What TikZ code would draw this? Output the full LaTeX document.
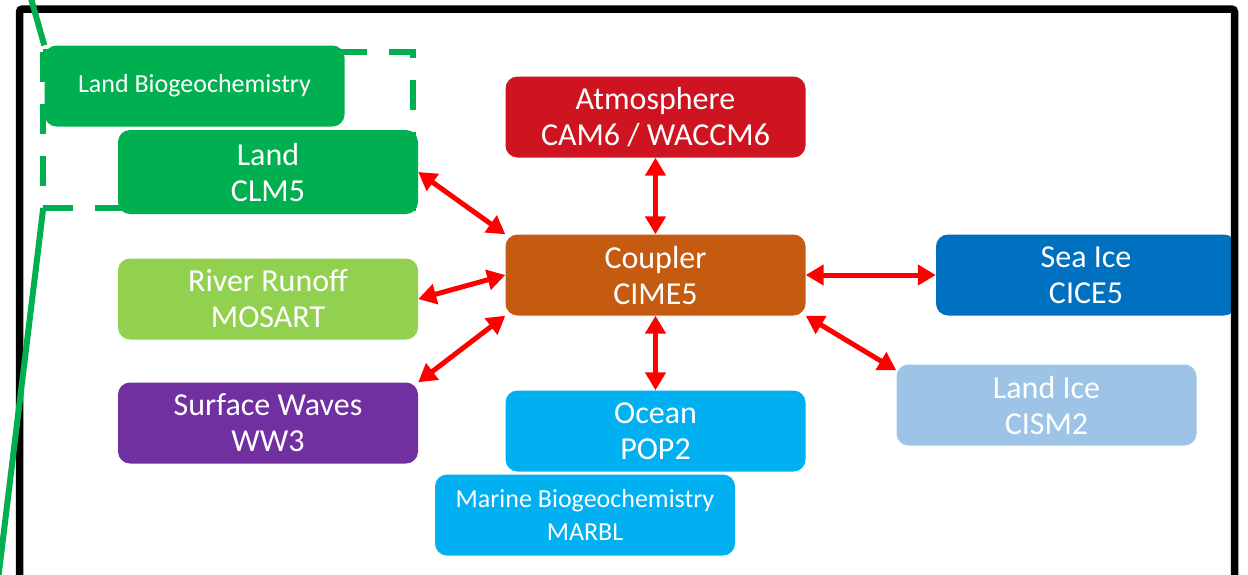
\documentclass[tikz,border=0pt]{standalone}
\usepackage{fontspec}
\setmainfont{Carlito}
\usepackage{tikz}
\usetikzlibrary{arrows.meta}

\definecolor{landgreen}{HTML}{00B050}
\definecolor{atmred}{HTML}{CE1420}
\definecolor{cplorange}{HTML}{C55A11}
\definecolor{seablue}{HTML}{0070C0}
\definecolor{iceblue}{HTML}{9DC3E6}
\definecolor{rivergreen}{HTML}{92D050}
\definecolor{wavepurple}{HTML}{7030A0}
\definecolor{oceanblue}{HTML}{00B0F0}

\begin{document}
\begin{tikzpicture}[x=1pt, y=-1pt,
    box/.style={rounded corners=12pt, minimum width=300pt, minimum height=81pt,
      inner sep=0pt, text=white, align=center, font=\fontsize{32}{36}\selectfont},
    smallbox/.style={box, font=\fontsize{26}{30}\selectfont},
    link/.style={red, line width=5pt, {Triangle[length=18pt,width=20pt]}-{Triangle[length=18pt,width=20pt]}}]
    \useasboundingbox (0,0) rectangle (1248,574);
    \clip (0,0) rectangle (1248,574);
    \fill[white] (0,0) rectangle (1248,574);

    % dashed land group
    \draw[landgreen, line width=6pt, dash pattern=on 30pt off 22pt] (43,52) rectangle (413,208);

    \node[smallbox, fill=landgreen] (landbgc) at (194.5,86) {Land Biogeochemistry};
    \node[box, fill=landgreen, minimum height=84pt] (land) at (268,172) {Land\\CLM5};
    \node[box, fill=atmred] (atm) at (655.5,117) {Atmosphere\\CAM6 / WACCM6};
    \node[box, fill=cplorange] (cpl) at (655.5,275) {Coupler\\CIME5};
    \node[box, fill=seablue] (ice) at (1086,275) {Sea Ice\\CICE5};
    \node[box, fill=iceblue] (glc) at (1046.5,405) {Land Ice\\CISM2};
    \node[box, fill=rivergreen] (rof) at (268,299) {River Runoff\\MOSART};
    \node[box, fill=wavepurple] (wav) at (268,423) {Surface Waves\\WW3};
    \node[box, fill=oceanblue] (ocn) at (655.5,431) {Ocean\\POP2};
    \node[smallbox, fill=oceanblue, font=\fontsize{26}{33}\selectfont] (marbl) at (585,515) {Marine Biogeochemistry\\MARBL};

    \draw[link] (land.east) -- (cpl.north west);
    \draw[link] (rof.east) -- (cpl.west);
    \draw[link] (wav.north east) -- (cpl.south west);
    \draw[link] (atm.south) -- (cpl.north);
    \draw[link] (cpl.south) -- (ocn.north);
    \draw[link] (cpl.east) -- (ice.west);
    \draw[link] (cpl.south east) -- ([yshift=-6pt]glc.north west);

    % frame
    \draw[line width=7.5pt, rounded corners=3pt] (19.5,600) -- (19.5,9) -- (1234.5,9) -- (1234.5,600);

    % zoom lines
    \coordinate (zt) at (30,-5);
    \coordinate (zb) at (43,210);
    \coordinate (ze) at (-2,580);
    \draw[landgreen, line width=6pt] (zt) -- (landbgc.north west);
    \draw[landgreen, line width=6pt] (zb) -- (ze);
\end{tikzpicture}
\end{document}
